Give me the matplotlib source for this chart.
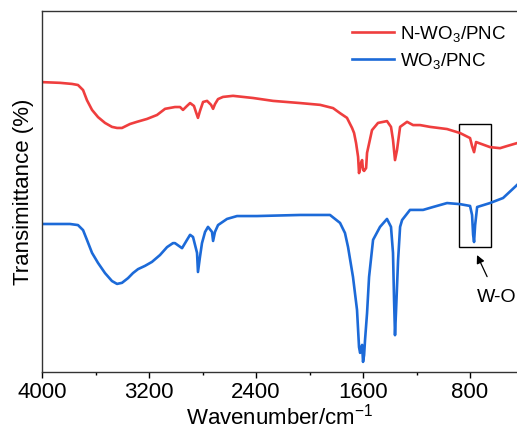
import matplotlib
matplotlib.use("Agg")
import matplotlib.pyplot as plt
from matplotlib.patches import Rectangle

plt.rcParams['font.family'] = ['Liberation Sans', 'DejaVu Sans']
plt.rcParams['mathtext.fontset'] = 'custom'
plt.rcParams['mathtext.rm'] = 'Liberation Sans'
plt.rcParams['mathtext.it'] = 'Liberation Sans:italic'

# ---- data ----
wn_red = [4000, 3865, 3776, 3731, 3693, 3664, 3626, 3581, 3529, 3477, 3439, 3402, 3342,
          3290, 3215, 3140, 3080, 3006, 2968, 2946, 2916, 2893, 2864, 2849, 2834, 2819,
          2796, 2766, 2736, 2721, 2707, 2684, 2647, 2572, 2422, 2273, 2071, 1921, 1824,
          1772, 1720, 1697, 1682, 1667, 1652, 1637, 1630, 1615, 1607, 1600, 1592, 1577,
          1570, 1533, 1488, 1421, 1391, 1376, 1361, 1346, 1323, 1271, 1226, 1174, 1099,
          972, 875, 800, 785, 770, 755, 651, 576, 523, 449]
t_red = [80.3, 80.1, 79.8, 79.5, 78.1, 75.3, 72.6, 70.6, 69.0, 67.9, 67.6, 67.6, 68.7,
         69.3, 70.1, 71.2, 72.9, 73.4, 73.4, 72.6, 73.7, 74.5, 73.7, 72.0, 70.4, 72.3,
         74.8, 75.1, 74.0, 72.9, 74.2, 75.6, 76.2, 76.5, 75.9, 75.1, 74.5, 74.0, 73.1,
         71.7, 70.4, 68.7, 67.6, 66.2, 63.4, 59.6, 55.1, 57.9, 58.7, 56.0, 55.7, 56.5,
         60.7, 67.0, 69.0, 69.5, 67.9, 64.3, 58.7, 61.5, 67.9, 69.3, 68.4, 68.4, 67.9,
         67.3, 66.2, 64.8, 62.6, 60.9, 63.7, 62.3, 62.0, 62.6, 63.4]

wn_blue = [4000, 3791, 3731, 3693, 3664, 3626, 3581, 3529, 3477, 3439, 3402, 3357, 3320,
           3282, 3230, 3178, 3118, 3065, 3021, 3006, 2953, 2916, 2893, 2871, 2841, 2834,
           2819, 2804, 2781, 2759, 2729, 2721, 2707, 2684, 2617, 2542, 2393, 2071, 1847,
           1772, 1735, 1712, 1675, 1645, 1630, 1622, 1615, 1607, 1600, 1592, 1585, 1570,
           1555, 1525, 1473, 1421, 1391, 1376, 1368, 1361, 1353, 1338, 1323, 1308, 1249,
           1151, 1077, 972, 875, 800, 785, 777, 770, 762, 747, 651, 553, 449]
t_blue = [41.0, 41.0, 40.7, 39.3, 36.6, 33.0, 30.2, 27.4, 25.2, 24.4, 24.7, 26.0, 27.4,
          28.5, 29.4, 30.5, 32.4, 34.6, 35.7, 35.7, 34.3, 36.6, 38.0, 37.4, 33.0, 27.7,
          31.9, 35.7, 38.8, 40.2, 38.8, 36.3, 38.8, 40.7, 42.4, 43.2, 43.2, 43.5, 43.5,
          41.3, 38.5, 34.6, 26.3, 17.2, 6.9, 5.3, 6.1, 7.5, 2.8, 4.7, 8.9, 16.3,
          26.3, 36.6, 40.2, 42.4, 40.2, 33.0, 19.9, 10.2, 17.2, 31.0, 40.2, 42.1, 44.9,
          44.9, 45.7, 46.8, 46.5, 46.0, 43.5, 38.0, 36.0, 40.7, 45.7, 46.8, 48.2, 51.8]

labels = ['N-WO$_3$/PNC', 'WO$_3$/PNC']
xticks = [4000, 3200, 2400, 1600, 800]
minor_xticks = [3600, 2800, 2000, 1200]

fig = plt.figure(figsize=(5.17, 4.36), dpi=100)
ax = fig.add_axes([42/517, 64/436, 1 - 42/517, (372-11)/436])

ax.plot(wn_red, t_red, color='#EF3E3E', lw=1.9, label=labels[0], solid_joinstyle='round')
ax.plot(wn_blue, t_blue, color='#1C6AD8', lw=1.9, label=labels[1], solid_joinstyle='round')

ax.set_xlim(4000, 449)
ax.set_ylim(0, 100)
ax.set_xticks(xticks)
ax.set_xticks(minor_xticks, minor=True)
ax.set_yticks([])
ax.tick_params(axis='x', which='major', direction='out', length=4.5, width=1.0, labelsize=16, pad=3)
ax.tick_params(axis='x', which='minor', direction='out', length=2.5, width=1.0)
for s in ['left', 'bottom', 'top']:
    ax.spines[s].set_linewidth(1.0)
    ax.spines[s].set_color('#333333')
ax.spines['right'].set_visible(False)

ax.set_xlabel('Wavenumber/cm$^{-1}$', fontsize=16, labelpad=0)
ax.set_ylabel('Transimittance (%)', fontsize=16, labelpad=6)

leg = ax.legend(loc='upper left', bbox_to_anchor=(352/517, 1 - 24/436), bbox_transform=fig.transFigure,
                frameon=False, fontsize=13.5, handlelength=2.24, handletextpad=0.32,
                borderpad=0, borderaxespad=0, labelspacing=0.35)

ax.add_patch(Rectangle((882, 34.6), 643 - 882, 68.7 - 34.6, fill=False, ec='black', lw=1.0))
ax.annotate('W-O', xy=(748, 32.4), xytext=(598, 20.5), ha='center', va='center', fontsize=14,
            arrowprops=dict(arrowstyle='-|>', color='black', lw=0.9, shrinkA=8, shrinkB=0,
                            mutation_scale=12))

fig.savefig('out.png', dpi=100)
